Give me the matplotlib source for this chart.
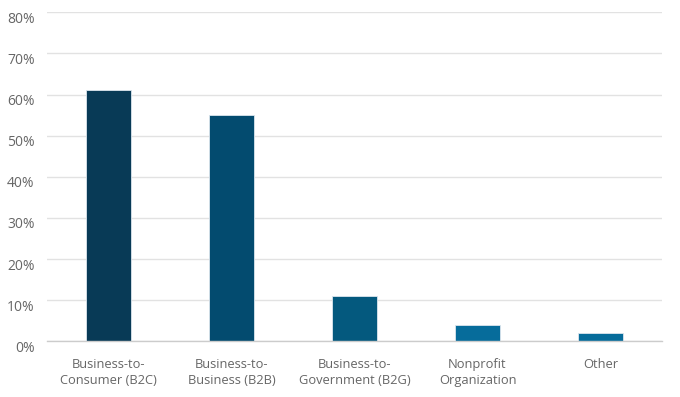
import matplotlib
matplotlib.use("Agg")
import matplotlib.pyplot as plt
import matplotlib.transforms as mtransforms

categories = ["Business-to-\nConsumer (B2C)", "Business-to-\nBusiness (B2B)",
              "Business-to-\nGovernment (B2G)", "Nonprofit\nOrganization", "Other"]
values = [61, 55, 11, 4, 2]
colors = ["#083A56", "#034B6F", "#04597E", "#066C9B", "#066C9B"]
yticks = [0, 10, 20, 30, 40, 50, 60, 70, 80]
ytick_labels = ["0%", "10%", "20%", "30%", "40%", "50%", "60%", "70%", "80%"]

plt.rcParams['font.family'] = ['Open Sans', 'DejaVu Sans']

fig = plt.figure(figsize=(6.8, 3.97), dpi=100)
ax = fig.add_axes([47/680, 1 - 341.3/397, (662-47)/680, (341.3-12.3)/397])

x = list(range(len(categories)))
ax.bar(x, values, width=0.36, color=colors, edgecolor="#dce6ee", linewidth=0.6, zorder=3)

ax.set_xlim(-0.5, 4.5)
ax.set_ylim(0, 80)
ax.set_yticks(yticks)
ax.set_yticklabels(ytick_labels, fontsize=10, color="#666666")
ax.set_xticks(x)
ax.set_xticklabels(categories, fontsize=9.3, color="#666666", linespacing=1.3)
ax.tick_params(axis='both', length=0)
ax.tick_params(axis='y', pad=9)
ax.tick_params(axis='x', pad=12)

offset = mtransforms.ScaledTranslation(0, -5/100, fig.dpi_scale_trans)
for lbl in ax.get_yticklabels():
    lbl.set_transform(lbl.get_transform() + offset)

ax.grid(axis='y', color="#e2e2e2", linewidth=1, zorder=0)
for s in ["top", "right", "left"]:
    ax.spines[s].set_visible(False)
ax.spines["bottom"].set_color("#cccccc")
ax.spines["bottom"].set_linewidth(1)
ax.spines["bottom"].set_zorder(4)

fig.savefig("out.png", dpi=100)
